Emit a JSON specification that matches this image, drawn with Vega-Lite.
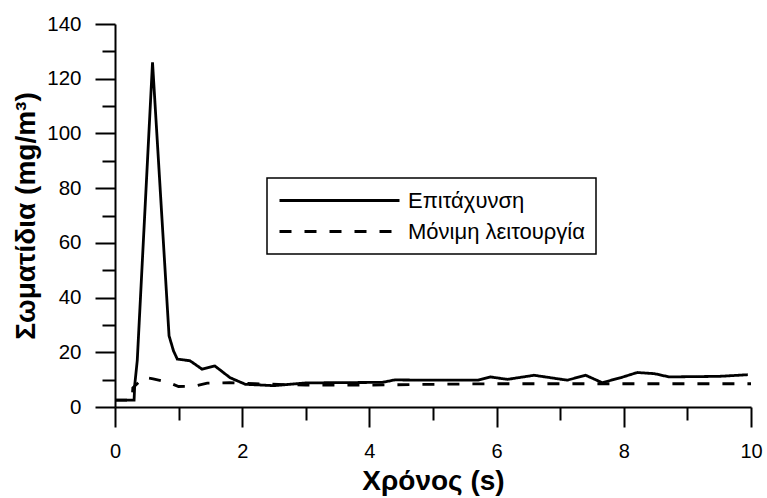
{
  "$schema": "https://vega.github.io/schema/vega-lite/v6.json",
  "autosize": {"type": "none"},
  "padding": {"left": 115, "top": 24, "right": 16, "bottom": 91},
  "width": 636,
  "height": 383,
  "config": {
    "view": {"stroke": null},
    "font": "Liberation Sans",
    "axis": {"domainColor": "black", "domainWidth": 2, "tickColor": "black", "tickWidth": 2, "labelColor": "black", "titleColor": "black", "grid": false, "labelFont": "Liberation Sans", "titleFont": "Liberation Sans"}
  },
  "data": {"values": [
    {"t": 0, "v": 2.5, "s": "Επιτάχυνση"},
    {"t": 0.3, "v": 2.5, "s": "Επιτάχυνση"},
    {"t": 0.31, "v": 8, "s": "Επιτάχυνση"},
    {"t": 0.35, "v": 17, "s": "Επιτάχυνση"},
    {"t": 0.59, "v": 126, "s": "Επιτάχυνση"},
    {"t": 0.85, "v": 26, "s": "Επιτάχυνση"},
    {"t": 0.92, "v": 20.5, "s": "Επιτάχυνση"},
    {"t": 0.98, "v": 17.5, "s": "Επιτάχυνση"},
    {"t": 1.18, "v": 16.9, "s": "Επιτάχυνση"},
    {"t": 1.37, "v": 13.8, "s": "Επιτάχυνση"},
    {"t": 1.57, "v": 15, "s": "Επιτάχυνση"},
    {"t": 1.81, "v": 10.7, "s": "Επιτάχυνση"},
    {"t": 2.05, "v": 8.3, "s": "Επιτάχυνση"},
    {"t": 2.5, "v": 7.8, "s": "Επιτάχυνση"},
    {"t": 3.0, "v": 8.8, "s": "Επιτάχυνση"},
    {"t": 3.5, "v": 8.9, "s": "Επιτάχυνση"},
    {"t": 4.2, "v": 9.0, "s": "Επιτάχυνση"},
    {"t": 4.4, "v": 9.9, "s": "Επιτάχυνση"},
    {"t": 5.0, "v": 9.8, "s": "Επιτάχυνση"},
    {"t": 5.7, "v": 9.8, "s": "Επιτάχυνση"},
    {"t": 5.9, "v": 11, "s": "Επιτάχυνση"},
    {"t": 6.17, "v": 10.1, "s": "Επιτάχυνση"},
    {"t": 6.59, "v": 11.6, "s": "Επιτάχυνση"},
    {"t": 7.11, "v": 9.8, "s": "Επιτάχυνση"},
    {"t": 7.4, "v": 11.6, "s": "Επιτάχυνση"},
    {"t": 7.66, "v": 8.9, "s": "Επιτάχυνση"},
    {"t": 7.95, "v": 10.7, "s": "Επιτάχυνση"},
    {"t": 8.21, "v": 12.6, "s": "Επιτάχυνση"},
    {"t": 8.48, "v": 12.2, "s": "Επιτάχυνση"},
    {"t": 8.71, "v": 11, "s": "Επιτάχυνση"},
    {"t": 9.5, "v": 11.2, "s": "Επιτάχυνση"},
    {"t": 9.95, "v": 11.8, "s": "Επιτάχυνση"},
    {"t": 0, "v": 2.5, "s": "Μόνιμη λειτουργία"},
    {"t": 0.27, "v": 2.5, "s": "Μόνιμη λειτουργία"},
    {"t": 0.28, "v": 7, "s": "Μόνιμη λειτουργία"},
    {"t": 0.45, "v": 10.8, "s": "Μόνιμη λειτουργία"},
    {"t": 0.6, "v": 10.3, "s": "Μόνιμη λειτουργία"},
    {"t": 0.85, "v": 8.9, "s": "Μόνιμη λειτουργία"},
    {"t": 1.0, "v": 7.5, "s": "Μόνιμη λειτουργία"},
    {"t": 1.25, "v": 7.6, "s": "Μόνιμη λειτουργία"},
    {"t": 1.45, "v": 8.7, "s": "Μόνιμη λειτουργία"},
    {"t": 1.8, "v": 8.9, "s": "Μόνιμη λειτουργία"},
    {"t": 2.2, "v": 8.5, "s": "Μόνιμη λειτουργία"},
    {"t": 3.0, "v": 8.0, "s": "Μόνιμη λειτουργία"},
    {"t": 4.0, "v": 8.0, "s": "Μόνιμη λειτουργία"},
    {"t": 5.0, "v": 8.3, "s": "Μόνιμη λειτουργία"},
    {"t": 6.0, "v": 8.5, "s": "Μόνιμη λειτουργία"},
    {"t": 7.0, "v": 8.5, "s": "Μόνιμη λειτουργία"},
    {"t": 8.0, "v": 8.5, "s": "Μόνιμη λειτουργία"},
    {"t": 9.0, "v": 8.5, "s": "Μόνιμη λειτουργία"},
    {"t": 10.0, "v": 8.5, "s": "Μόνιμη λειτουργία"}
  ]},
  "mark": {"type": "line", "color": "black", "strokeWidth": 2.8},
  "encoding": {
    "x": {"field": "t", "type": "quantitative", "scale": {"domain": [0, 10], "nice": false},
      "axis": {"title": "Χρόνος (s)", "values": [0,1,2,3,4,5,6,7,8,9,10],
        "labelExpr": "datum.value % 2 === 0 ? datum.label : ''",
        "tickSize": {"condition": {"test": "datum.value % 2 === 0", "value": 20}, "value": 13},
        "labelFontSize": 20, "labelPadding": 14, "titleFontSize": 28, "titleFontWeight": "bold", "titlePadding": 6, "labelFlush": false}},
    "y": {"field": "v", "type": "quantitative", "scale": {"domain": [0, 140], "nice": false},
      "axis": {"title": "Σωματίδια (mg/m³)", "values": [0,10,20,30,40,50,60,70,80,90,100,110,120,130,140],
        "labelExpr": "datum.value % 20 === 0 ? datum.label : ''",
        "tickSize": {"condition": {"test": "datum.value % 20 === 0", "value": 20}, "value": 13},
        "labelFontSize": 20.5, "labelPadding": 14, "titleFontSize": 28, "titleFontWeight": "bold", "titlePadding": 6, "labelFlush": false}},
    "detail": {"field": "s"},
    "strokeDash": {"field": "s", "type": "nominal",
      "scale": {"domain": ["Επιτάχυνση", "Μόνιμη λειτουργία"], "range": [[1, 0], [12, 13]]},
      "legend": {"title": null, "orient": "none", "legendX": 152, "legendY": 154,
        "strokeColor": "black", "fillColor": "white", "padding": 11, "cornerRadius": 0,
        "symbolType": "M-1,0H11", "symbolSize": 400, "symbolStrokeWidth": 3, "symbolStrokeColor": "black", "symbolFillColor": "transparent",
        "labelOffset": 107, "labelFontSize": 22, "labelColor": "black", "rowPadding": 8, "labelFont": "Liberation Sans", "labelLimit": 500,
        "encode": {"legend": {"update": {"strokeWidth": {"value": 1.5}}}}}}
  }
}
